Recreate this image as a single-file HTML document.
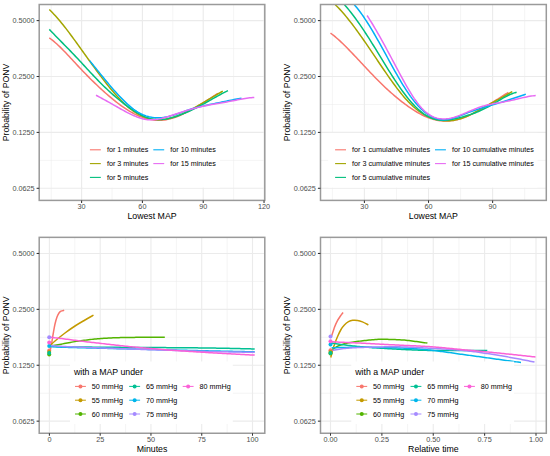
<!DOCTYPE html>
<html><head><meta charset="utf-8"><style>
html,body{margin:0;padding:0;background:#fff;width:550px;height:456px;overflow:hidden;}
svg{display:block;}
</style></head><body>
<svg width="550" height="456" viewBox="0 0 550 456" font-family='"Liberation Sans", sans-serif'>
<rect x="0" y="0" width="550" height="456" fill="#ffffff"/>
<clipPath id="c1"><rect x="39.20" y="4.50" width="225.60" height="195.90"/></clipPath>
<line x1="39.20" x2="264.80" y1="160.35" y2="160.35" stroke="#ebebeb" stroke-width="0.55"/>
<line x1="39.20" x2="264.80" y1="104.45" y2="104.45" stroke="#ebebeb" stroke-width="0.55"/>
<line x1="39.20" x2="264.80" y1="48.55" y2="48.55" stroke="#ebebeb" stroke-width="0.55"/>
<line x1="51.19" x2="51.19" y1="4.50" y2="200.40" stroke="#ebebeb" stroke-width="0.55"/>
<line x1="112.00" x2="112.00" y1="4.50" y2="200.40" stroke="#ebebeb" stroke-width="0.55"/>
<line x1="172.81" x2="172.81" y1="4.50" y2="200.40" stroke="#ebebeb" stroke-width="0.55"/>
<line x1="233.62" x2="233.62" y1="4.50" y2="200.40" stroke="#ebebeb" stroke-width="0.55"/>
<line x1="39.20" x2="264.80" y1="188.30" y2="188.30" stroke="#ebebeb" stroke-width="1.1"/>
<line x1="39.20" x2="264.80" y1="132.40" y2="132.40" stroke="#ebebeb" stroke-width="1.1"/>
<line x1="39.20" x2="264.80" y1="76.50" y2="76.50" stroke="#ebebeb" stroke-width="1.1"/>
<line x1="39.20" x2="264.80" y1="20.60" y2="20.60" stroke="#ebebeb" stroke-width="1.1"/>
<line x1="81.60" x2="81.60" y1="4.50" y2="200.40" stroke="#ebebeb" stroke-width="1.1"/>
<line x1="142.41" x2="142.41" y1="4.50" y2="200.40" stroke="#ebebeb" stroke-width="1.1"/>
<line x1="203.22" x2="203.22" y1="4.50" y2="200.40" stroke="#ebebeb" stroke-width="1.1"/>
<line x1="264.03" x2="264.03" y1="4.50" y2="200.40" stroke="#ebebeb" stroke-width="1.1"/>
<g clip-path="url(#c1)" fill="none" stroke-width="1.50" stroke-linecap="butt" stroke-linejoin="round">
<path d="M49.30,37.89 L50.82,39.00 L52.34,40.17 L53.85,41.41 L55.37,42.71 L56.89,44.06 L58.41,45.46 L59.93,46.91 L61.44,48.40 L62.96,49.92 L64.48,51.48 L66.00,53.06 L67.52,54.67 L69.03,56.29 L70.55,57.93 L72.07,59.57 L73.59,61.22 L75.11,62.86 L76.62,64.50 L78.14,66.13 L79.66,67.75 L81.18,69.35 L82.70,70.94 L84.21,72.51 L85.73,74.07 L87.25,75.62 L88.77,77.15 L90.29,78.67 L91.80,80.17 L93.32,81.66 L94.84,83.13 L96.36,84.58 L97.88,86.02 L99.39,87.44 L100.91,88.84 L102.43,90.23 L103.95,91.60 L105.47,92.96 L106.98,94.29 L108.50,95.61 L110.02,96.90 L111.54,98.18 L113.06,99.43 L114.57,100.66 L116.09,101.86 L117.61,103.03 L119.13,104.18 L120.65,105.30 L122.16,106.38 L123.68,107.44 L125.20,108.46 L126.72,109.45 L128.24,110.40 L129.75,111.31 L131.27,112.19 L132.79,113.02 L134.31,113.82 L135.83,114.57 L137.35,115.28 L138.86,115.95 L140.38,116.57 L141.90,117.15 L143.42,117.68 L144.94,118.17 L146.45,118.60 L147.97,118.99 L149.49,119.34 L151.01,119.63 L152.53,119.87 L154.04,120.06 L155.56,120.20 L157.08,120.28 L158.60,120.31 L160.12,120.29 L161.63,120.21 L163.15,120.08 L164.67,119.89 L166.19,119.66 L167.71,119.37 L169.22,119.03 L170.74,118.65 L172.26,118.22 L173.78,117.75 L175.30,117.24 L176.81,116.69 L178.33,116.10 L179.85,115.48 L181.37,114.82 L182.89,114.13 L184.40,113.42 L185.92,112.67 L187.44,111.90 L188.96,111.10 L190.48,110.29 L191.99,109.45 L193.51,108.59 L195.03,107.71 L196.55,106.82 L198.07,105.92 L199.58,105.00 L201.10,104.06 L202.62,103.12 L204.14,102.17 L205.66,101.21 L207.17,100.25 L208.69,99.28 L210.21,98.31 L211.73,97.34 L213.25,96.36 L214.76,95.39 L216.28,94.43 L217.80,93.46" stroke="#F8766D"/>
<path d="M49.30,9.54 L50.82,11.02 L52.34,12.55 L53.87,14.15 L55.39,15.80 L56.91,17.51 L58.43,19.26 L59.95,21.06 L61.48,22.90 L63.00,24.78 L64.52,26.70 L66.04,28.65 L67.56,30.64 L69.09,32.65 L70.61,34.68 L72.13,36.74 L73.65,38.82 L75.17,40.91 L76.69,43.02 L78.22,45.13 L79.74,47.25 L81.26,49.38 L82.78,51.51 L84.30,53.64 L85.83,55.77 L87.35,57.90 L88.87,60.02 L90.39,62.14 L91.91,64.25 L93.44,66.35 L94.96,68.43 L96.48,70.51 L98.00,72.56 L99.52,74.60 L101.05,76.62 L102.57,78.62 L104.09,80.60 L105.61,82.55 L107.13,84.47 L108.66,86.36 L110.18,88.22 L111.70,90.05 L113.22,91.85 L114.74,93.60 L116.26,95.32 L117.79,96.99 L119.31,98.62 L120.83,100.20 L122.35,101.73 L123.87,103.21 L125.40,104.63 L126.92,106.00 L128.44,107.31 L129.96,108.56 L131.48,109.75 L133.01,110.87 L134.53,111.92 L136.05,112.91 L137.57,113.82 L139.09,114.66 L140.62,115.43 L142.14,116.13 L143.66,116.77 L145.18,117.34 L146.70,117.84 L148.23,118.28 L149.75,118.66 L151.27,118.97 L152.79,119.22 L154.31,119.42 L155.84,119.55 L157.36,119.63 L158.88,119.65 L160.40,119.61 L161.92,119.53 L163.44,119.38 L164.97,119.19 L166.49,118.95 L168.01,118.66 L169.53,118.32 L171.05,117.93 L172.58,117.51 L174.10,117.04 L175.62,116.53 L177.14,115.99 L178.66,115.41 L180.19,114.79 L181.71,114.15 L183.23,113.47 L184.75,112.77 L186.27,112.04 L187.80,111.29 L189.32,110.51 L190.84,109.72 L192.36,108.90 L193.88,108.07 L195.41,107.23 L196.93,106.37 L198.45,105.50 L199.97,104.62 L201.49,103.73 L203.01,102.83 L204.54,101.93 L206.06,101.02 L207.58,100.11 L209.10,99.20 L210.62,98.28 L212.15,97.37 L213.67,96.46 L215.19,95.56 L216.71,94.66 L218.23,93.76 L219.76,92.88 L221.28,92.00 L222.80,91.14" stroke="#A3A500"/>
<path d="M49.30,29.36 L50.81,30.95 L52.33,32.53 L53.84,34.10 L55.36,35.66 L56.87,37.21 L58.39,38.76 L59.90,40.30 L61.42,41.85 L62.93,43.39 L64.44,44.93 L65.96,46.47 L67.47,48.02 L68.99,49.57 L70.50,51.14 L72.02,52.70 L73.53,54.28 L75.04,55.88 L76.56,57.48 L78.07,59.10 L79.59,60.72 L81.10,62.35 L82.62,63.99 L84.13,65.62 L85.65,67.26 L87.16,68.90 L88.67,70.53 L90.19,72.16 L91.70,73.78 L93.22,75.38 L94.73,76.98 L96.25,78.56 L97.76,80.13 L99.28,81.67 L100.79,83.20 L102.30,84.70 L103.82,86.18 L105.33,87.64 L106.85,89.08 L108.36,90.49 L109.88,91.88 L111.39,93.25 L112.91,94.59 L114.42,95.92 L115.93,97.22 L117.45,98.50 L118.96,99.75 L120.48,100.99 L121.99,102.20 L123.51,103.38 L125.02,104.55 L126.53,105.69 L128.05,106.81 L129.56,107.90 L131.08,108.96 L132.59,109.98 L134.11,110.97 L135.62,111.92 L137.14,112.83 L138.65,113.70 L140.16,114.51 L141.68,115.28 L143.19,115.99 L144.71,116.64 L146.22,117.23 L147.74,117.76 L149.25,118.22 L150.77,118.62 L152.28,118.94 L153.79,119.19 L155.31,119.37 L156.82,119.48 L158.34,119.54 L159.85,119.53 L161.37,119.46 L162.88,119.34 L164.39,119.16 L165.91,118.94 L167.42,118.67 L168.94,118.36 L170.45,118.00 L171.97,117.61 L173.48,117.18 L175.00,116.73 L176.51,116.24 L178.02,115.72 L179.54,115.18 L181.05,114.62 L182.57,114.03 L184.08,113.42 L185.60,112.79 L187.11,112.13 L188.63,111.46 L190.14,110.77 L191.65,110.06 L193.17,109.33 L194.68,108.58 L196.20,107.82 L197.71,107.04 L199.23,106.25 L200.74,105.45 L202.26,104.63 L203.77,103.80 L205.28,102.97 L206.80,102.12 L208.31,101.27 L209.83,100.41 L211.34,99.55 L212.86,98.70 L214.37,97.84 L215.88,96.99 L217.40,96.14 L218.91,95.30 L220.43,94.48 L221.94,93.66 L223.46,92.86 L224.97,92.07 L226.49,91.31 L228.00,90.56" stroke="#00BF7D"/>
<path d="M89.70,60.74 L91.22,62.61 L92.74,64.49 L94.25,66.37 L95.77,68.25 L97.29,70.13 L98.81,72.00 L100.33,73.87 L101.84,75.73 L103.36,77.58 L104.88,79.43 L106.40,81.25 L107.92,83.07 L109.43,84.86 L110.95,86.64 L112.47,88.40 L113.99,90.13 L115.51,91.84 L117.02,93.52 L118.54,95.17 L120.06,96.78 L121.58,98.36 L123.10,99.90 L124.61,101.39 L126.13,102.84 L127.65,104.23 L129.17,105.57 L130.69,106.86 L132.20,108.08 L133.72,109.24 L135.24,110.33 L136.76,111.35 L138.28,112.30 L139.79,113.17 L141.31,113.95 L142.83,114.66 L144.35,115.29 L145.87,115.85 L147.38,116.33 L148.90,116.73 L150.42,117.07 L151.94,117.34 L153.46,117.55 L154.97,117.69 L156.49,117.76 L158.01,117.78 L159.53,117.74 L161.05,117.65 L162.56,117.50 L164.08,117.30 L165.60,117.05 L167.12,116.76 L168.64,116.42 L170.15,116.04 L171.67,115.63 L173.19,115.19 L174.71,114.72 L176.23,114.23 L177.74,113.72 L179.26,113.20 L180.78,112.67 L182.30,112.13 L183.82,111.59 L185.33,111.06 L186.85,110.53 L188.37,110.02 L189.89,109.52 L191.41,109.04 L192.92,108.58 L194.44,108.14 L195.96,107.72 L197.48,107.32 L199.00,106.94 L200.51,106.57 L202.03,106.21 L203.55,105.87 L205.07,105.53 L206.59,105.21 L208.10,104.89 L209.62,104.57 L211.14,104.26 L212.66,103.95 L214.18,103.64 L215.69,103.34 L217.21,103.02 L218.73,102.71 L220.25,102.39 L221.77,102.08 L223.28,101.76 L224.80,101.45 L226.32,101.13 L227.84,100.82 L229.36,100.51 L230.87,100.20 L232.39,99.90 L233.91,99.61 L235.43,99.32 L236.95,99.03 L238.46,98.76 L239.98,98.49 L241.50,98.23" stroke="#00B0F6"/>
<path d="M96.00,95.25 L97.52,96.03 L99.04,96.83 L100.57,97.65 L102.09,98.47 L103.61,99.30 L105.13,100.14 L106.65,100.99 L108.18,101.85 L109.70,102.71 L111.22,103.57 L112.74,104.43 L114.27,105.30 L115.79,106.16 L117.31,107.02 L118.83,107.88 L120.35,108.73 L121.88,109.58 L123.40,110.42 L124.92,111.24 L126.44,112.06 L127.96,112.85 L129.49,113.63 L131.01,114.37 L132.53,115.09 L134.05,115.77 L135.57,116.42 L137.10,117.02 L138.62,117.57 L140.14,118.08 L141.66,118.53 L143.19,118.92 L144.71,119.25 L146.23,119.51 L147.75,119.70 L149.27,119.82 L150.80,119.87 L152.32,119.84 L153.84,119.75 L155.36,119.60 L156.88,119.39 L158.41,119.13 L159.93,118.82 L161.45,118.47 L162.97,118.08 L164.50,117.66 L166.02,117.21 L167.54,116.74 L169.06,116.25 L170.58,115.75 L172.11,115.24 L173.63,114.72 L175.15,114.21 L176.67,113.69 L178.19,113.19 L179.72,112.69 L181.24,112.20 L182.76,111.71 L184.28,111.24 L185.80,110.77 L187.33,110.31 L188.85,109.86 L190.37,109.42 L191.89,108.99 L193.42,108.57 L194.94,108.17 L196.46,107.77 L197.98,107.39 L199.50,107.03 L201.03,106.68 L202.55,106.34 L204.07,106.01 L205.59,105.70 L207.11,105.40 L208.64,105.11 L210.16,104.83 L211.68,104.56 L213.20,104.29 L214.73,104.03 L216.25,103.77 L217.77,103.51 L219.29,103.25 L220.81,102.99 L222.34,102.73 L223.86,102.46 L225.38,102.19 L226.90,101.92 L228.42,101.63 L229.95,101.34 L231.47,101.04 L232.99,100.74 L234.51,100.44 L236.03,100.14 L237.56,99.84 L239.08,99.55 L240.60,99.26 L242.12,98.99 L243.65,98.73 L245.17,98.48 L246.69,98.24 L248.21,98.03 L249.73,97.84 L251.26,97.67 L252.78,97.52 L254.30,97.40" stroke="#E76BF3"/>
</g>
<rect x="83.00" y="132.90" width="136.80" height="54.70" fill="#ffffff"/>
<line x1="89.90" x2="100.80" y1="149.80" y2="149.80" stroke="#F8766D" stroke-width="1.1"/>
<text x="106.90" y="152.35" font-size="7.20" fill="#000000" text-anchor="start">for 1 minutes</text>
<line x1="89.90" x2="100.80" y1="163.60" y2="163.60" stroke="#A3A500" stroke-width="1.1"/>
<text x="106.90" y="166.15" font-size="7.20" fill="#000000" text-anchor="start">for 3 minutes</text>
<line x1="89.90" x2="100.80" y1="177.40" y2="177.40" stroke="#00BF7D" stroke-width="1.1"/>
<text x="106.90" y="179.95" font-size="7.20" fill="#000000" text-anchor="start">for 5 minutes</text>
<line x1="153.30" x2="164.20" y1="149.80" y2="149.80" stroke="#00B0F6" stroke-width="1.1"/>
<text x="170.30" y="152.35" font-size="7.20" fill="#000000" text-anchor="start">for 10 minutes</text>
<line x1="153.30" x2="164.20" y1="163.60" y2="163.60" stroke="#E76BF3" stroke-width="1.1"/>
<text x="170.30" y="166.15" font-size="7.20" fill="#000000" text-anchor="start">for 15 minutes</text>
<rect x="39.20" y="4.50" width="225.60" height="195.90" fill="none" stroke="#9a9a9a" stroke-width="1.5"/>
<line x1="36.60" x2="39.20" y1="188.30" y2="188.30" stroke="#333333" stroke-width="1.05"/>
<text x="34.60" y="190.90" font-size="7.25" fill="#4d4d4d" text-anchor="end">0.0625</text>
<line x1="36.60" x2="39.20" y1="132.40" y2="132.40" stroke="#333333" stroke-width="1.05"/>
<text x="34.60" y="135.00" font-size="7.25" fill="#4d4d4d" text-anchor="end">0.1250</text>
<line x1="36.60" x2="39.20" y1="76.50" y2="76.50" stroke="#333333" stroke-width="1.05"/>
<text x="34.60" y="79.10" font-size="7.25" fill="#4d4d4d" text-anchor="end">0.2500</text>
<line x1="36.60" x2="39.20" y1="20.60" y2="20.60" stroke="#333333" stroke-width="1.05"/>
<text x="34.60" y="23.20" font-size="7.25" fill="#4d4d4d" text-anchor="end">0.5000</text>
<line x1="81.60" x2="81.60" y1="200.40" y2="202.90" stroke="#333333" stroke-width="1.05"/>
<text x="81.60" y="209.25" font-size="7.25" fill="#4d4d4d" text-anchor="middle">30</text>
<line x1="142.41" x2="142.41" y1="200.40" y2="202.90" stroke="#333333" stroke-width="1.05"/>
<text x="142.41" y="209.25" font-size="7.25" fill="#4d4d4d" text-anchor="middle">60</text>
<line x1="203.22" x2="203.22" y1="200.40" y2="202.90" stroke="#333333" stroke-width="1.05"/>
<text x="203.22" y="209.25" font-size="7.25" fill="#4d4d4d" text-anchor="middle">90</text>
<line x1="264.03" x2="264.03" y1="200.40" y2="202.90" stroke="#333333" stroke-width="1.05"/>
<text x="264.03" y="209.25" font-size="7.25" fill="#4d4d4d" text-anchor="middle">120</text>
<text x="152.00" y="219.40" font-size="8.75" fill="#000000" text-anchor="middle">Lowest MAP</text>
<text x="0" y="0" font-size="8.75" fill="#000000" text-anchor="middle" transform="translate(8.80,102.45) rotate(-90)">Probability of PONV</text>
<clipPath id="c2"><rect x="320.50" y="4.50" width="225.80" height="195.90"/></clipPath>
<line x1="320.50" x2="546.30" y1="160.35" y2="160.35" stroke="#ebebeb" stroke-width="0.55"/>
<line x1="320.50" x2="546.30" y1="104.45" y2="104.45" stroke="#ebebeb" stroke-width="0.55"/>
<line x1="320.50" x2="546.30" y1="48.55" y2="48.55" stroke="#ebebeb" stroke-width="0.55"/>
<line x1="332.34" x2="332.34" y1="4.50" y2="200.40" stroke="#ebebeb" stroke-width="0.55"/>
<line x1="396.45" x2="396.45" y1="4.50" y2="200.40" stroke="#ebebeb" stroke-width="0.55"/>
<line x1="460.56" x2="460.56" y1="4.50" y2="200.40" stroke="#ebebeb" stroke-width="0.55"/>
<line x1="524.67" x2="524.67" y1="4.50" y2="200.40" stroke="#ebebeb" stroke-width="0.55"/>
<line x1="320.50" x2="546.30" y1="188.30" y2="188.30" stroke="#ebebeb" stroke-width="1.1"/>
<line x1="320.50" x2="546.30" y1="132.40" y2="132.40" stroke="#ebebeb" stroke-width="1.1"/>
<line x1="320.50" x2="546.30" y1="76.50" y2="76.50" stroke="#ebebeb" stroke-width="1.1"/>
<line x1="320.50" x2="546.30" y1="20.60" y2="20.60" stroke="#ebebeb" stroke-width="1.1"/>
<line x1="364.40" x2="364.40" y1="4.50" y2="200.40" stroke="#ebebeb" stroke-width="1.1"/>
<line x1="428.51" x2="428.51" y1="4.50" y2="200.40" stroke="#ebebeb" stroke-width="1.1"/>
<line x1="492.62" x2="492.62" y1="4.50" y2="200.40" stroke="#ebebeb" stroke-width="1.1"/>
<g clip-path="url(#c2)" fill="none" stroke-width="1.50" stroke-linecap="butt" stroke-linejoin="round">
<path d="M330.50,33.09 L332.02,34.23 L333.54,35.43 L335.06,36.68 L336.58,37.97 L338.10,39.30 L339.62,40.67 L341.14,42.09 L342.66,43.53 L344.18,45.01 L345.71,46.51 L347.23,48.05 L348.75,49.60 L350.27,51.17 L351.79,52.76 L353.31,54.36 L354.83,55.97 L356.35,57.59 L357.87,59.21 L359.39,60.83 L360.91,62.46 L362.43,64.09 L363.95,65.71 L365.47,67.33 L366.99,68.95 L368.51,70.56 L370.03,72.16 L371.55,73.76 L373.07,75.34 L374.59,76.91 L376.12,78.46 L377.64,80.00 L379.16,81.52 L380.68,83.03 L382.20,84.51 L383.72,85.97 L385.24,87.42 L386.76,88.83 L388.28,90.23 L389.80,91.61 L391.32,92.96 L392.84,94.29 L394.36,95.60 L395.88,96.89 L397.40,98.15 L398.92,99.39 L400.44,100.60 L401.96,101.79 L403.48,102.96 L405.01,104.10 L406.53,105.21 L408.05,106.30 L409.57,107.37 L411.09,108.41 L412.61,109.41 L414.13,110.39 L415.65,111.33 L417.17,112.24 L418.69,113.11 L420.21,113.95 L421.73,114.74 L423.25,115.50 L424.77,116.21 L426.29,116.88 L427.81,117.50 L429.33,118.08 L430.85,118.60 L432.37,119.08 L433.89,119.51 L435.42,119.88 L436.94,120.20 L438.46,120.47 L439.98,120.69 L441.50,120.86 L443.02,120.98 L444.54,121.05 L446.06,121.06 L447.58,121.03 L449.10,120.95 L450.62,120.81 L452.14,120.63 L453.66,120.40 L455.18,120.12 L456.70,119.78 L458.22,119.40 L459.74,118.98 L461.26,118.50 L462.78,117.98 L464.31,117.43 L465.83,116.83 L467.35,116.19 L468.87,115.52 L470.39,114.82 L471.91,114.09 L473.43,113.33 L474.95,112.55 L476.47,111.74 L477.99,110.91 L479.51,110.06 L481.03,109.19 L482.55,108.31 L484.07,107.42 L485.59,106.52 L487.11,105.60 L488.63,104.68 L490.15,103.75 L491.67,102.82 L493.19,101.87 L494.72,100.93 L496.24,99.97 L497.76,99.02 L499.28,98.06 L500.80,97.11 L502.32,96.15 L503.84,95.20 L505.36,94.24 L506.88,93.29 L508.40,92.35" stroke="#F8766D"/>
<path d="M335.30,4.67 L336.83,6.18 L338.35,7.76 L339.88,9.38 L341.40,11.06 L342.93,12.79 L344.46,14.57 L345.98,16.39 L347.51,18.25 L349.03,20.16 L350.56,22.10 L352.08,24.08 L353.61,26.10 L355.14,28.14 L356.66,30.22 L358.19,32.33 L359.71,34.46 L361.24,36.61 L362.77,38.79 L364.29,40.98 L365.82,43.19 L367.34,45.42 L368.87,47.66 L370.39,49.91 L371.92,52.16 L373.45,54.42 L374.97,56.69 L376.50,58.95 L378.02,61.22 L379.55,63.48 L381.08,65.73 L382.60,67.97 L384.13,70.21 L385.65,72.43 L387.18,74.64 L388.71,76.83 L390.23,78.99 L391.76,81.13 L393.28,83.25 L394.81,85.32 L396.33,87.37 L397.86,89.37 L399.39,91.33 L400.91,93.24 L402.44,95.11 L403.96,96.91 L405.49,98.66 L407.02,100.35 L408.54,101.98 L410.07,103.54 L411.59,105.02 L413.12,106.44 L414.64,107.77 L416.17,109.04 L417.70,110.24 L419.22,111.37 L420.75,112.42 L422.27,113.41 L423.80,114.34 L425.33,115.19 L426.85,115.99 L428.38,116.71 L429.90,117.38 L431.43,117.98 L432.96,118.53 L434.48,119.01 L436.01,119.43 L437.53,119.80 L439.06,120.11 L440.58,120.36 L442.11,120.56 L443.64,120.70 L445.16,120.78 L446.69,120.81 L448.21,120.79 L449.74,120.71 L451.27,120.57 L452.79,120.39 L454.32,120.15 L455.84,119.86 L457.37,119.52 L458.89,119.13 L460.42,118.69 L461.95,118.20 L463.47,117.66 L465.00,117.07 L466.52,116.44 L468.05,115.77 L469.58,115.07 L471.10,114.34 L472.63,113.57 L474.15,112.79 L475.68,111.98 L477.21,111.16 L478.73,110.32 L480.26,109.47 L481.78,108.61 L483.31,107.75 L484.83,106.89 L486.36,106.04 L487.89,105.19 L489.41,104.35 L490.94,103.51 L492.46,102.68 L493.99,101.86 L495.52,101.03 L497.04,100.20 L498.57,99.37 L500.09,98.54 L501.62,97.70 L503.14,96.85 L504.67,96.00 L506.20,95.13 L507.72,94.25 L509.25,93.36 L510.77,92.45 L512.30,91.53" stroke="#A3A500"/>
<path d="M344.50,4.78 L346.02,6.51 L347.55,8.30 L349.07,10.14 L350.59,12.04 L352.12,13.99 L353.64,15.98 L355.16,18.03 L356.68,20.12 L358.21,22.26 L359.73,24.43 L361.25,26.64 L362.78,28.89 L364.30,31.18 L365.82,33.49 L367.35,35.84 L368.87,38.21 L370.39,40.61 L371.91,43.03 L373.44,45.48 L374.96,47.94 L376.48,50.42 L378.01,52.90 L379.53,55.40 L381.05,57.89 L382.58,60.39 L384.10,62.88 L385.62,65.36 L387.14,67.83 L388.67,70.28 L390.19,72.72 L391.71,75.12 L393.24,77.50 L394.76,79.85 L396.28,82.16 L397.81,84.42 L399.33,86.65 L400.85,88.82 L402.37,90.95 L403.90,93.02 L405.42,95.03 L406.94,96.97 L408.47,98.86 L409.99,100.68 L411.51,102.44 L413.04,104.12 L414.56,105.73 L416.08,107.27 L417.60,108.73 L419.13,110.11 L420.65,111.41 L422.17,112.63 L423.70,113.76 L425.22,114.80 L426.74,115.75 L428.27,116.61 L429.79,117.37 L431.31,118.04 L432.83,118.60 L434.36,119.08 L435.88,119.47 L437.40,119.77 L438.93,120.00 L440.45,120.15 L441.97,120.23 L443.50,120.25 L445.02,120.21 L446.54,120.11 L448.06,119.97 L449.59,119.77 L451.11,119.54 L452.63,119.27 L454.16,118.96 L455.68,118.63 L457.20,118.27 L458.73,117.90 L460.25,117.51 L461.77,117.10 L463.29,116.69 L464.82,116.25 L466.34,115.80 L467.86,115.34 L469.39,114.85 L470.91,114.34 L472.43,113.81 L473.96,113.26 L475.48,112.69 L477.00,112.09 L478.52,111.47 L480.05,110.82 L481.57,110.14 L483.09,109.43 L484.62,108.69 L486.14,107.93 L487.66,107.12 L489.19,106.29 L490.71,105.43 L492.23,104.54 L493.75,103.64 L495.28,102.73 L496.80,101.81 L498.32,100.89 L499.85,99.99 L501.37,99.09 L502.89,98.22 L504.42,97.37 L505.94,96.55 L507.46,95.77 L508.98,95.04 L510.51,94.35 L512.03,93.72 L513.55,93.16 L515.08,92.66 L516.60,92.23" stroke="#00BF7D"/>
<path d="M354.30,4.70 L355.82,6.46 L357.34,8.31 L358.85,10.26 L360.37,12.28 L361.89,14.38 L363.41,16.55 L364.92,18.80 L366.44,21.11 L367.96,23.48 L369.48,25.91 L370.99,28.39 L372.51,30.92 L374.03,33.50 L375.55,36.11 L377.07,38.76 L378.58,41.45 L380.10,44.16 L381.62,46.90 L383.14,49.65 L384.65,52.42 L386.17,55.20 L387.69,57.99 L389.21,60.77 L390.72,63.54 L392.24,66.30 L393.76,69.05 L395.28,71.76 L396.80,74.45 L398.31,77.10 L399.83,79.71 L401.35,82.27 L402.87,84.78 L404.38,87.23 L405.90,89.61 L407.42,91.93 L408.94,94.16 L410.45,96.32 L411.97,98.39 L413.49,100.36 L415.01,102.25 L416.53,104.04 L418.04,105.74 L419.56,107.34 L421.08,108.85 L422.60,110.27 L424.11,111.59 L425.63,112.81 L427.15,113.93 L428.67,114.96 L430.18,115.88 L431.70,116.71 L433.22,117.44 L434.74,118.07 L436.26,118.59 L437.77,119.02 L439.29,119.34 L440.81,119.56 L442.33,119.68 L443.84,119.70 L445.36,119.64 L446.88,119.50 L448.40,119.28 L449.92,118.99 L451.43,118.65 L452.95,118.24 L454.47,117.79 L455.99,117.30 L457.50,116.78 L459.02,116.22 L460.54,115.64 L462.06,115.05 L463.57,114.45 L465.09,113.84 L466.61,113.24 L468.13,112.65 L469.65,112.07 L471.16,111.52 L472.68,110.98 L474.20,110.45 L475.72,109.94 L477.23,109.45 L478.75,108.96 L480.27,108.49 L481.79,108.02 L483.30,107.56 L484.82,107.11 L486.34,106.66 L487.86,106.22 L489.38,105.78 L490.89,105.34 L492.41,104.90 L493.93,104.46 L495.45,104.01 L496.96,103.56 L498.48,103.11 L500.00,102.65 L501.52,102.19 L503.03,101.72 L504.55,101.24 L506.07,100.76 L507.59,100.28 L509.11,99.79 L510.62,99.29 L512.14,98.80 L513.66,98.30 L515.18,97.79 L516.69,97.28 L518.21,96.77 L519.73,96.25 L521.25,95.73 L522.76,95.21 L524.28,94.68 L525.80,94.15" stroke="#00B0F6"/>
<path d="M367.10,15.50 L368.62,17.86 L370.14,20.28 L371.66,22.75 L373.18,25.26 L374.69,27.82 L376.21,30.42 L377.73,33.05 L379.25,35.72 L380.77,38.43 L382.29,41.16 L383.81,43.92 L385.33,46.70 L386.85,49.50 L388.36,52.32 L389.88,55.15 L391.40,58.00 L392.92,60.85 L394.44,63.71 L395.96,66.57 L397.48,69.42 L399.00,72.27 L400.52,75.09 L402.04,77.89 L403.55,80.66 L405.07,83.38 L406.59,86.05 L408.11,88.66 L409.63,91.20 L411.15,93.67 L412.67,96.06 L414.19,98.36 L415.71,100.55 L417.22,102.65 L418.74,104.62 L420.26,106.48 L421.78,108.21 L423.30,109.79 L424.82,111.24 L426.34,112.54 L427.86,113.71 L429.38,114.74 L430.89,115.65 L432.41,116.44 L433.93,117.11 L435.45,117.66 L436.97,118.12 L438.49,118.46 L440.01,118.72 L441.53,118.87 L443.05,118.95 L444.56,118.93 L446.08,118.84 L447.60,118.68 L449.12,118.45 L450.64,118.16 L452.16,117.80 L453.68,117.40 L455.20,116.94 L456.72,116.44 L458.24,115.91 L459.75,115.34 L461.27,114.74 L462.79,114.12 L464.31,113.48 L465.83,112.83 L467.35,112.18 L468.87,111.52 L470.39,110.86 L471.91,110.21 L473.42,109.57 L474.94,108.95 L476.46,108.36 L477.98,107.79 L479.50,107.26 L481.02,106.76 L482.54,106.30 L484.06,105.87 L485.58,105.48 L487.09,105.10 L488.61,104.76 L490.13,104.43 L491.65,104.12 L493.17,103.82 L494.69,103.54 L496.21,103.27 L497.73,103.00 L499.25,102.73 L500.76,102.46 L502.28,102.20 L503.80,101.92 L505.32,101.63 L506.84,101.34 L508.36,101.03 L509.88,100.70 L511.40,100.36 L512.92,100.01 L514.44,99.65 L515.95,99.29 L517.47,98.93 L518.99,98.57 L520.51,98.22 L522.03,97.87 L523.55,97.53 L525.07,97.21 L526.59,96.90 L528.11,96.61 L529.62,96.34 L531.14,96.09 L532.66,95.87 L534.18,95.69 L535.70,95.53" stroke="#E76BF3"/>
</g>
<rect x="328.20" y="132.90" width="209.30" height="54.70" fill="#ffffff"/>
<line x1="335.10" x2="346.00" y1="149.80" y2="149.80" stroke="#F8766D" stroke-width="1.1"/>
<text x="352.10" y="152.35" font-size="7.20" fill="#000000" text-anchor="start">for 1 cumulative minutes</text>
<line x1="335.10" x2="346.00" y1="163.60" y2="163.60" stroke="#A3A500" stroke-width="1.1"/>
<text x="352.10" y="166.15" font-size="7.20" fill="#000000" text-anchor="start">for 3 cumulative minutes</text>
<line x1="335.10" x2="346.00" y1="177.40" y2="177.40" stroke="#00BF7D" stroke-width="1.1"/>
<text x="352.10" y="179.95" font-size="7.20" fill="#000000" text-anchor="start">for 5 cumulative minutes</text>
<line x1="435.00" x2="445.90" y1="149.80" y2="149.80" stroke="#00B0F6" stroke-width="1.1"/>
<text x="452.00" y="152.35" font-size="7.20" fill="#000000" text-anchor="start">for 10 cumulative minutes</text>
<line x1="435.00" x2="445.90" y1="163.60" y2="163.60" stroke="#E76BF3" stroke-width="1.1"/>
<text x="452.00" y="166.15" font-size="7.20" fill="#000000" text-anchor="start">for 15 cumulative minutes</text>
<rect x="320.50" y="4.50" width="225.80" height="195.90" fill="none" stroke="#9a9a9a" stroke-width="1.5"/>
<line x1="317.90" x2="320.50" y1="188.30" y2="188.30" stroke="#333333" stroke-width="1.05"/>
<text x="315.90" y="190.90" font-size="7.25" fill="#4d4d4d" text-anchor="end">0.0625</text>
<line x1="317.90" x2="320.50" y1="132.40" y2="132.40" stroke="#333333" stroke-width="1.05"/>
<text x="315.90" y="135.00" font-size="7.25" fill="#4d4d4d" text-anchor="end">0.1250</text>
<line x1="317.90" x2="320.50" y1="76.50" y2="76.50" stroke="#333333" stroke-width="1.05"/>
<text x="315.90" y="79.10" font-size="7.25" fill="#4d4d4d" text-anchor="end">0.2500</text>
<line x1="317.90" x2="320.50" y1="20.60" y2="20.60" stroke="#333333" stroke-width="1.05"/>
<text x="315.90" y="23.20" font-size="7.25" fill="#4d4d4d" text-anchor="end">0.5000</text>
<line x1="364.40" x2="364.40" y1="200.40" y2="202.90" stroke="#333333" stroke-width="1.05"/>
<text x="364.40" y="209.25" font-size="7.25" fill="#4d4d4d" text-anchor="middle">30</text>
<line x1="428.51" x2="428.51" y1="200.40" y2="202.90" stroke="#333333" stroke-width="1.05"/>
<text x="428.51" y="209.25" font-size="7.25" fill="#4d4d4d" text-anchor="middle">60</text>
<line x1="492.62" x2="492.62" y1="200.40" y2="202.90" stroke="#333333" stroke-width="1.05"/>
<text x="492.62" y="209.25" font-size="7.25" fill="#4d4d4d" text-anchor="middle">90</text>
<text x="433.40" y="219.40" font-size="8.75" fill="#000000" text-anchor="middle">Lowest MAP</text>
<text x="0" y="0" font-size="8.75" fill="#000000" text-anchor="middle" transform="translate(290.10,102.45) rotate(-90)">Probability of PONV</text>
<clipPath id="c3"><rect x="39.20" y="237.35" width="225.60" height="195.90"/></clipPath>
<line x1="39.20" x2="264.80" y1="393.20" y2="393.20" stroke="#ebebeb" stroke-width="0.55"/>
<line x1="39.20" x2="264.80" y1="337.30" y2="337.30" stroke="#ebebeb" stroke-width="0.55"/>
<line x1="39.20" x2="264.80" y1="281.40" y2="281.40" stroke="#ebebeb" stroke-width="0.55"/>
<line x1="74.79" x2="74.79" y1="237.35" y2="433.25" stroke="#ebebeb" stroke-width="0.55"/>
<line x1="125.56" x2="125.56" y1="237.35" y2="433.25" stroke="#ebebeb" stroke-width="0.55"/>
<line x1="176.34" x2="176.34" y1="237.35" y2="433.25" stroke="#ebebeb" stroke-width="0.55"/>
<line x1="227.11" x2="227.11" y1="237.35" y2="433.25" stroke="#ebebeb" stroke-width="0.55"/>
<line x1="39.20" x2="264.80" y1="421.15" y2="421.15" stroke="#ebebeb" stroke-width="1.1"/>
<line x1="39.20" x2="264.80" y1="365.25" y2="365.25" stroke="#ebebeb" stroke-width="1.1"/>
<line x1="39.20" x2="264.80" y1="309.35" y2="309.35" stroke="#ebebeb" stroke-width="1.1"/>
<line x1="39.20" x2="264.80" y1="253.45" y2="253.45" stroke="#ebebeb" stroke-width="1.1"/>
<line x1="49.40" x2="49.40" y1="237.35" y2="433.25" stroke="#ebebeb" stroke-width="1.1"/>
<line x1="100.18" x2="100.18" y1="237.35" y2="433.25" stroke="#ebebeb" stroke-width="1.1"/>
<line x1="150.95" x2="150.95" y1="237.35" y2="433.25" stroke="#ebebeb" stroke-width="1.1"/>
<line x1="201.73" x2="201.73" y1="237.35" y2="433.25" stroke="#ebebeb" stroke-width="1.1"/>
<line x1="252.50" x2="252.50" y1="237.35" y2="433.25" stroke="#ebebeb" stroke-width="1.1"/>
<g clip-path="url(#c3)" fill="none" stroke-width="1.50" stroke-linecap="butt" stroke-linejoin="round">
<path d="M50.30,350.00 C50.50,349.08 51.13,346.50 51.50,344.50 C51.87,342.50 52.17,340.08 52.50,338.00 C52.83,335.92 53.08,334.33 53.50,332.00 C53.92,329.67 54.42,326.50 55.00,324.00 C55.58,321.50 56.33,318.83 57.00,317.00 C57.67,315.17 58.33,313.97 59.00,313.00 C59.67,312.03 60.13,311.65 61.00,311.20 C61.87,310.75 63.67,310.45 64.20,310.30" stroke="#F8766D"/>
<path d="M50.50,345.20 C51.25,344.50 52.58,343.03 55.00,341.00 C57.42,338.97 61.67,335.50 65.00,333.00 C68.33,330.50 71.67,328.17 75.00,326.00 C78.33,323.83 81.92,321.80 85.00,320.00 C88.08,318.20 92.08,316.00 93.50,315.20" stroke="#C49A00"/>
<path d="M50.50,345.90 L52.02,345.67 L53.55,345.43 L55.07,345.19 L56.60,344.95 L58.12,344.71 L59.64,344.46 L61.17,344.18 L62.69,343.87 L64.22,343.55 L65.74,343.26 L67.26,342.97 L68.79,342.68 L70.31,342.40 L71.84,342.13 L73.36,341.87 L74.88,341.62 L76.41,341.38 L77.93,341.16 L79.46,340.94 L80.98,340.73 L82.50,340.52 L84.03,340.32 L85.55,340.13 L87.08,339.94 L88.60,339.74 L90.12,339.56 L91.65,339.37 L93.17,339.21 L94.70,339.05 L96.22,338.91 L97.74,338.79 L99.27,338.67 L100.79,338.56 L102.32,338.45 L103.84,338.34 L105.36,338.24 L106.89,338.15 L108.41,338.07 L109.94,337.99 L111.46,337.92 L112.98,337.85 L114.51,337.80 L116.03,337.75 L117.56,337.71 L119.08,337.66 L120.60,337.62 L122.13,337.58 L123.65,337.55 L125.18,337.51 L126.70,337.48 L128.22,337.46 L129.75,337.43 L131.27,337.41 L132.80,337.40 L134.32,337.39 L135.84,337.37 L137.37,337.36 L138.89,337.35 L140.42,337.34 L141.94,337.33 L143.46,337.32 L144.99,337.31 L146.51,337.31 L148.04,337.30 L149.56,337.30 L151.08,337.30 L152.61,337.30 L154.13,337.30 L155.66,337.30 L157.18,337.30 L158.70,337.30 L160.23,337.30 L161.75,337.30 L163.28,337.30 L164.80,337.30" stroke="#53B400"/>
<path d="M50.50,346.30 L52.01,346.37 L53.53,346.45 L55.04,346.52 L56.55,346.59 L58.06,346.65 L59.58,346.69 L61.09,346.72 L62.60,346.75 L64.11,346.78 L65.63,346.81 L67.14,346.84 L68.65,346.86 L70.16,346.89 L71.68,346.91 L73.19,346.93 L74.70,346.95 L76.21,346.97 L77.73,346.99 L79.24,347.00 L80.75,347.02 L82.26,347.04 L83.78,347.05 L85.29,347.07 L86.80,347.08 L88.31,347.09 L89.83,347.11 L91.34,347.12 L92.85,347.14 L94.37,347.15 L95.88,347.16 L97.39,347.18 L98.90,347.19 L100.42,347.20 L101.93,347.22 L103.44,347.23 L104.95,347.25 L106.47,347.26 L107.98,347.27 L109.49,347.28 L111.00,347.30 L112.52,347.31 L114.03,347.32 L115.54,347.33 L117.05,347.34 L118.57,347.36 L120.08,347.37 L121.59,347.38 L123.10,347.39 L124.62,347.40 L126.13,347.41 L127.64,347.42 L129.15,347.43 L130.67,347.44 L132.18,347.45 L133.69,347.46 L135.21,347.47 L136.72,347.48 L138.23,347.49 L139.74,347.50 L141.26,347.51 L142.77,347.52 L144.28,347.52 L145.79,347.53 L147.31,347.54 L148.82,347.55 L150.33,347.55 L151.84,347.56 L153.36,347.57 L154.87,347.57 L156.38,347.58 L157.89,347.59 L159.41,347.59 L160.92,347.60 L162.43,347.61 L163.94,347.61 L165.46,347.62 L166.97,347.63 L168.48,347.63 L169.99,347.64 L171.51,347.65 L173.02,347.66 L174.53,347.67 L176.05,347.67 L177.56,347.68 L179.07,347.69 L180.58,347.70 L182.10,347.72 L183.61,347.73 L185.12,347.74 L186.63,347.75 L188.15,347.77 L189.66,347.78 L191.17,347.80 L192.68,347.81 L194.20,347.83 L195.71,347.84 L197.22,347.86 L198.73,347.88 L200.25,347.90 L201.76,347.92 L203.27,347.94 L204.78,347.96 L206.30,347.98 L207.81,348.00 L209.32,348.02 L210.83,348.04 L212.35,348.06 L213.86,348.08 L215.37,348.11 L216.89,348.13 L218.40,348.15 L219.91,348.18 L221.42,348.21 L222.94,348.23 L224.45,348.26 L225.96,348.29 L227.47,348.32 L228.99,348.35 L230.50,348.39 L232.01,348.42 L233.52,348.45 L235.04,348.49 L236.55,348.52 L238.06,348.56 L239.57,348.60 L241.09,348.63 L242.60,348.67 L244.11,348.71 L245.62,348.75 L247.14,348.79 L248.65,348.83 L250.16,348.87 L251.67,348.91 L253.19,348.96 L254.70,349.00" stroke="#00C094"/>
<path d="M50.50,346.60 L52.01,346.69 L53.53,346.78 L55.04,346.86 L56.55,346.94 L58.06,347.02 L59.58,347.08 L61.09,347.14 L62.60,347.20 L64.11,347.25 L65.63,347.30 L67.14,347.35 L68.65,347.40 L70.16,347.44 L71.68,347.49 L73.19,347.53 L74.70,347.57 L76.21,347.61 L77.73,347.65 L79.24,347.69 L80.75,347.73 L82.26,347.77 L83.78,347.80 L85.29,347.84 L86.80,347.88 L88.31,347.91 L89.83,347.95 L91.34,347.98 L92.85,348.02 L94.37,348.06 L95.88,348.09 L97.39,348.13 L98.90,348.17 L100.42,348.21 L101.93,348.25 L103.44,348.29 L104.95,348.33 L106.47,348.37 L107.98,348.41 L109.49,348.45 L111.00,348.49 L112.52,348.52 L114.03,348.56 L115.54,348.60 L117.05,348.64 L118.57,348.68 L120.08,348.72 L121.59,348.75 L123.10,348.79 L124.62,348.83 L126.13,348.87 L127.64,348.91 L129.15,348.94 L130.67,348.98 L132.18,349.02 L133.69,349.06 L135.21,349.09 L136.72,349.13 L138.23,349.17 L139.74,349.21 L141.26,349.24 L142.77,349.28 L144.28,349.32 L145.79,349.35 L147.31,349.39 L148.82,349.43 L150.33,349.46 L151.84,349.50 L153.36,349.54 L154.87,349.58 L156.38,349.61 L157.89,349.65 L159.41,349.69 L160.92,349.72 L162.43,349.76 L163.94,349.80 L165.46,349.83 L166.97,349.87 L168.48,349.91 L169.99,349.94 L171.51,349.98 L173.02,350.02 L174.53,350.05 L176.05,350.09 L177.56,350.13 L179.07,350.16 L180.58,350.20 L182.10,350.24 L183.61,350.27 L185.12,350.31 L186.63,350.35 L188.15,350.38 L189.66,350.42 L191.17,350.46 L192.68,350.49 L194.20,350.53 L195.71,350.56 L197.22,350.60 L198.73,350.63 L200.25,350.67 L201.76,350.70 L203.27,350.74 L204.78,350.77 L206.30,350.81 L207.81,350.84 L209.32,350.88 L210.83,350.91 L212.35,350.94 L213.86,350.98 L215.37,351.01 L216.89,351.04 L218.40,351.07 L219.91,351.11 L221.42,351.14 L222.94,351.17 L224.45,351.20 L225.96,351.23 L227.47,351.26 L228.99,351.30 L230.50,351.33 L232.01,351.36 L233.52,351.39 L235.04,351.42 L236.55,351.45 L238.06,351.48 L239.57,351.51 L241.09,351.54 L242.60,351.57 L244.11,351.60 L245.62,351.63 L247.14,351.66 L248.65,351.69 L250.16,351.71 L251.67,351.74 L253.19,351.77 L254.70,351.80" stroke="#00B6EB"/>
<path d="M50.50,345.60 L52.01,345.72 L53.53,345.84 L55.04,345.96 L56.55,346.08 L58.06,346.18 L59.58,346.28 L61.09,346.36 L62.60,346.44 L64.11,346.52 L65.63,346.59 L67.14,346.66 L68.65,346.73 L70.16,346.80 L71.68,346.86 L73.19,346.92 L74.70,346.99 L76.21,347.05 L77.73,347.10 L79.24,347.16 L80.75,347.22 L82.26,347.27 L83.78,347.32 L85.29,347.38 L86.80,347.43 L88.31,347.48 L89.83,347.54 L91.34,347.59 L92.85,347.64 L94.37,347.70 L95.88,347.75 L97.39,347.80 L98.90,347.86 L100.42,347.92 L101.93,347.97 L103.44,348.03 L104.95,348.09 L106.47,348.14 L107.98,348.20 L109.49,348.25 L111.00,348.31 L112.52,348.36 L114.03,348.42 L115.54,348.48 L117.05,348.53 L118.57,348.58 L120.08,348.64 L121.59,348.69 L123.10,348.75 L124.62,348.80 L126.13,348.86 L127.64,348.91 L129.15,348.96 L130.67,349.02 L132.18,349.07 L133.69,349.12 L135.21,349.18 L136.72,349.23 L138.23,349.28 L139.74,349.33 L141.26,349.38 L142.77,349.43 L144.28,349.49 L145.79,349.54 L147.31,349.59 L148.82,349.64 L150.33,349.69 L151.84,349.74 L153.36,349.79 L154.87,349.84 L156.38,349.88 L157.89,349.93 L159.41,349.98 L160.92,350.03 L162.43,350.08 L163.94,350.13 L165.46,350.17 L166.97,350.22 L168.48,350.27 L169.99,350.32 L171.51,350.37 L173.02,350.42 L174.53,350.46 L176.05,350.51 L177.56,350.56 L179.07,350.61 L180.58,350.66 L182.10,350.70 L183.61,350.75 L185.12,350.80 L186.63,350.84 L188.15,350.89 L189.66,350.93 L191.17,350.98 L192.68,351.02 L194.20,351.07 L195.71,351.11 L197.22,351.15 L198.73,351.20 L200.25,351.24 L201.76,351.28 L203.27,351.32 L204.78,351.36 L206.30,351.40 L207.81,351.43 L209.32,351.47 L210.83,351.51 L212.35,351.54 L213.86,351.58 L215.37,351.61 L216.89,351.64 L218.40,351.67 L219.91,351.70 L221.42,351.74 L222.94,351.77 L224.45,351.80 L225.96,351.83 L227.47,351.86 L228.99,351.89 L230.50,351.91 L232.01,351.94 L233.52,351.97 L235.04,352.00 L236.55,352.02 L238.06,352.05 L239.57,352.08 L241.09,352.10 L242.60,352.13 L244.11,352.15 L245.62,352.17 L247.14,352.20 L248.65,352.22 L250.16,352.24 L251.67,352.26 L253.19,352.28 L254.70,352.30" stroke="#A58AFF"/>
<path d="M49.50,337.20 L51.02,337.36 L52.54,337.53 L54.06,337.69 L55.58,337.87 L57.10,338.04 L58.62,338.22 L60.14,338.40 L61.66,338.59 L63.18,338.77 L64.70,338.96 L66.22,339.15 L67.74,339.35 L69.26,339.55 L70.78,339.75 L72.30,339.95 L73.82,340.15 L75.34,340.34 L76.86,340.54 L78.38,340.75 L79.90,340.95 L81.42,341.15 L82.94,341.34 L84.46,341.53 L85.98,341.72 L87.50,341.90 L89.02,342.07 L90.54,342.24 L92.06,342.41 L93.58,342.58 L95.10,342.75 L96.62,342.92 L98.14,343.09 L99.66,343.26 L101.18,343.44 L102.70,343.62 L104.22,343.80 L105.74,343.98 L107.26,344.16 L108.78,344.34 L110.30,344.52 L111.82,344.70 L113.34,344.87 L114.86,345.04 L116.38,345.21 L117.90,345.37 L119.42,345.54 L120.94,345.70 L122.46,345.86 L123.98,346.02 L125.50,346.18 L127.02,346.34 L128.54,346.49 L130.06,346.64 L131.58,346.79 L133.10,346.94 L134.62,347.08 L136.14,347.23 L137.66,347.37 L139.18,347.51 L140.70,347.65 L142.22,347.79 L143.74,347.93 L145.26,348.07 L146.78,348.20 L148.30,348.33 L149.82,348.47 L151.34,348.60 L152.86,348.72 L154.38,348.85 L155.90,348.97 L157.42,349.10 L158.94,349.22 L160.46,349.34 L161.98,349.45 L163.50,349.57 L165.02,349.68 L166.54,349.80 L168.06,349.91 L169.58,350.02 L171.10,350.13 L172.62,350.24 L174.14,350.35 L175.66,350.46 L177.18,350.57 L178.70,350.68 L180.22,350.78 L181.74,350.89 L183.26,350.99 L184.78,351.09 L186.30,351.20 L187.82,351.30 L189.34,351.40 L190.86,351.50 L192.38,351.60 L193.90,351.70 L195.42,351.80 L196.94,351.89 L198.46,351.99 L199.98,352.09 L201.50,352.18 L203.02,352.28 L204.54,352.37 L206.06,352.46 L207.58,352.56 L209.10,352.65 L210.62,352.74 L212.14,352.83 L213.66,352.92 L215.18,353.01 L216.70,353.10 L218.22,353.19 L219.74,353.28 L221.26,353.36 L222.78,353.45 L224.30,353.53 L225.82,353.62 L227.34,353.70 L228.86,353.79 L230.38,353.87 L231.90,353.95 L233.42,354.03 L234.94,354.11 L236.46,354.19 L237.98,354.27 L239.50,354.35 L241.02,354.43 L242.54,354.51 L244.06,354.58 L245.58,354.66 L247.10,354.73 L248.62,354.81 L250.14,354.88 L251.66,354.96 L253.18,355.03 L254.70,355.10" stroke="#FB61D7"/>
<circle cx="49.20" cy="350.40" r="2.0" fill="#F8766D" stroke="none"/>
<circle cx="49.20" cy="352.00" r="2.0" fill="#C49A00" stroke="none"/>
<circle cx="49.20" cy="354.40" r="2.0" fill="#53B400" stroke="none"/>
<circle cx="49.20" cy="352.90" r="2.0" fill="#00C094" stroke="none"/>
<circle cx="49.20" cy="346.00" r="2.0" fill="#00B6EB" stroke="none"/>
<circle cx="49.20" cy="337.20" r="2.0" fill="#A58AFF" stroke="none"/>
<circle cx="49.20" cy="342.60" r="2.0" fill="#FB61D7" stroke="none"/>
</g>
<rect x="70.00" y="361.50" width="162.80" height="62.50" fill="#ffffff"/>
<text x="73.90" y="374.60" font-size="8.75" fill="#000000" text-anchor="start">with a MAP under</text>
<line x1="75.00" x2="85.90" y1="386.40" y2="386.40" stroke="#F8766D" stroke-width="1.0"/>
<circle cx="80.45" cy="386.40" r="2.0" fill="#F8766D"/>
<text x="91.80" y="388.95" font-size="7.20" fill="#000000" text-anchor="start">50 mmHg</text>
<line x1="75.00" x2="85.90" y1="400.20" y2="400.20" stroke="#C49A00" stroke-width="1.0"/>
<circle cx="80.45" cy="400.20" r="2.0" fill="#C49A00"/>
<text x="91.80" y="402.75" font-size="7.20" fill="#000000" text-anchor="start">55 mmHg</text>
<line x1="75.00" x2="85.90" y1="414.00" y2="414.00" stroke="#53B400" stroke-width="1.0"/>
<circle cx="80.45" cy="414.00" r="2.0" fill="#53B400"/>
<text x="91.80" y="416.55" font-size="7.20" fill="#000000" text-anchor="start">60 mmHg</text>
<line x1="129.20" x2="140.10" y1="386.40" y2="386.40" stroke="#00C094" stroke-width="1.0"/>
<circle cx="134.65" cy="386.40" r="2.0" fill="#00C094"/>
<text x="146.00" y="388.95" font-size="7.20" fill="#000000" text-anchor="start">65 mmHg</text>
<line x1="129.20" x2="140.10" y1="400.20" y2="400.20" stroke="#00B6EB" stroke-width="1.0"/>
<circle cx="134.65" cy="400.20" r="2.0" fill="#00B6EB"/>
<text x="146.00" y="402.75" font-size="7.20" fill="#000000" text-anchor="start">70 mmHg</text>
<line x1="129.20" x2="140.10" y1="414.00" y2="414.00" stroke="#A58AFF" stroke-width="1.0"/>
<circle cx="134.65" cy="414.00" r="2.0" fill="#A58AFF"/>
<text x="146.00" y="416.55" font-size="7.20" fill="#000000" text-anchor="start">75 mmHg</text>
<line x1="182.70" x2="193.60" y1="386.40" y2="386.40" stroke="#FB61D7" stroke-width="1.0"/>
<circle cx="188.15" cy="386.40" r="2.0" fill="#FB61D7"/>
<text x="199.50" y="388.95" font-size="7.20" fill="#000000" text-anchor="start">80 mmHg</text>
<rect x="39.20" y="237.35" width="225.60" height="195.90" fill="none" stroke="#9a9a9a" stroke-width="1.5"/>
<line x1="36.60" x2="39.20" y1="421.15" y2="421.15" stroke="#333333" stroke-width="1.05"/>
<text x="34.60" y="423.75" font-size="7.25" fill="#4d4d4d" text-anchor="end">0.0625</text>
<line x1="36.60" x2="39.20" y1="365.25" y2="365.25" stroke="#333333" stroke-width="1.05"/>
<text x="34.60" y="367.85" font-size="7.25" fill="#4d4d4d" text-anchor="end">0.1250</text>
<line x1="36.60" x2="39.20" y1="309.35" y2="309.35" stroke="#333333" stroke-width="1.05"/>
<text x="34.60" y="311.95" font-size="7.25" fill="#4d4d4d" text-anchor="end">0.2500</text>
<line x1="36.60" x2="39.20" y1="253.45" y2="253.45" stroke="#333333" stroke-width="1.05"/>
<text x="34.60" y="256.05" font-size="7.25" fill="#4d4d4d" text-anchor="end">0.5000</text>
<line x1="49.40" x2="49.40" y1="433.25" y2="435.75" stroke="#333333" stroke-width="1.05"/>
<text x="49.40" y="442.10" font-size="7.25" fill="#4d4d4d" text-anchor="middle">0</text>
<line x1="100.18" x2="100.18" y1="433.25" y2="435.75" stroke="#333333" stroke-width="1.05"/>
<text x="100.18" y="442.10" font-size="7.25" fill="#4d4d4d" text-anchor="middle">25</text>
<line x1="150.95" x2="150.95" y1="433.25" y2="435.75" stroke="#333333" stroke-width="1.05"/>
<text x="150.95" y="442.10" font-size="7.25" fill="#4d4d4d" text-anchor="middle">50</text>
<line x1="201.73" x2="201.73" y1="433.25" y2="435.75" stroke="#333333" stroke-width="1.05"/>
<text x="201.73" y="442.10" font-size="7.25" fill="#4d4d4d" text-anchor="middle">75</text>
<line x1="252.50" x2="252.50" y1="433.25" y2="435.75" stroke="#333333" stroke-width="1.05"/>
<text x="252.50" y="442.10" font-size="7.25" fill="#4d4d4d" text-anchor="middle">100</text>
<text x="152.00" y="452.25" font-size="8.75" fill="#000000" text-anchor="middle">Minutes</text>
<text x="0" y="0" font-size="8.75" fill="#000000" text-anchor="middle" transform="translate(8.80,335.30) rotate(-90)">Probability of PONV</text>
<clipPath id="c4"><rect x="320.50" y="237.35" width="225.80" height="195.90"/></clipPath>
<line x1="320.50" x2="546.30" y1="393.20" y2="393.20" stroke="#ebebeb" stroke-width="0.55"/>
<line x1="320.50" x2="546.30" y1="337.30" y2="337.30" stroke="#ebebeb" stroke-width="0.55"/>
<line x1="320.50" x2="546.30" y1="281.40" y2="281.40" stroke="#ebebeb" stroke-width="0.55"/>
<line x1="356.19" x2="356.19" y1="237.35" y2="433.25" stroke="#ebebeb" stroke-width="0.55"/>
<line x1="407.56" x2="407.56" y1="237.35" y2="433.25" stroke="#ebebeb" stroke-width="0.55"/>
<line x1="458.94" x2="458.94" y1="237.35" y2="433.25" stroke="#ebebeb" stroke-width="0.55"/>
<line x1="510.31" x2="510.31" y1="237.35" y2="433.25" stroke="#ebebeb" stroke-width="0.55"/>
<line x1="320.50" x2="546.30" y1="421.15" y2="421.15" stroke="#ebebeb" stroke-width="1.1"/>
<line x1="320.50" x2="546.30" y1="365.25" y2="365.25" stroke="#ebebeb" stroke-width="1.1"/>
<line x1="320.50" x2="546.30" y1="309.35" y2="309.35" stroke="#ebebeb" stroke-width="1.1"/>
<line x1="320.50" x2="546.30" y1="253.45" y2="253.45" stroke="#ebebeb" stroke-width="1.1"/>
<line x1="330.50" x2="330.50" y1="237.35" y2="433.25" stroke="#ebebeb" stroke-width="1.1"/>
<line x1="381.88" x2="381.88" y1="237.35" y2="433.25" stroke="#ebebeb" stroke-width="1.1"/>
<line x1="433.25" x2="433.25" y1="237.35" y2="433.25" stroke="#ebebeb" stroke-width="1.1"/>
<line x1="484.62" x2="484.62" y1="237.35" y2="433.25" stroke="#ebebeb" stroke-width="1.1"/>
<line x1="536.00" x2="536.00" y1="237.35" y2="433.25" stroke="#ebebeb" stroke-width="1.1"/>
<g clip-path="url(#c4)" fill="none" stroke-width="1.50" stroke-linecap="butt" stroke-linejoin="round">
<path d="M331.60,336.00 C332.12,334.45 333.78,329.15 334.70,326.70 C335.62,324.25 336.20,323.00 337.10,321.30 C338.00,319.60 339.10,317.97 340.10,316.50 C341.10,315.03 342.60,313.17 343.10,312.50" stroke="#F8766D"/>
<path d="M330.80,357.50 C331.13,356.18 332.10,352.02 332.80,349.60 C333.50,347.18 334.17,345.27 335.00,343.00 C335.83,340.73 336.80,338.25 337.80,336.00 C338.80,333.75 339.90,331.33 341.00,329.50 C342.10,327.67 343.15,326.30 344.40,325.00 C345.65,323.70 347.12,322.48 348.50,321.70 C349.88,320.92 351.18,320.52 352.70,320.30 C354.22,320.08 355.98,320.13 357.60,320.40 C359.22,320.67 360.60,321.15 362.40,321.90 C364.20,322.65 367.40,324.40 368.40,324.90" stroke="#C49A00"/>
<path d="M332.20,349.60 L333.74,348.55 L335.27,347.57 L336.81,346.67 L338.34,345.89 L339.88,345.24 L341.41,344.72 L342.95,344.24 L344.48,343.82 L346.02,343.44 L347.55,343.09 L349.09,342.78 L350.63,342.48 L352.16,342.21 L353.70,341.95 L355.23,341.72 L356.77,341.50 L358.30,341.30 L359.84,341.12 L361.37,340.95 L362.91,340.77 L364.45,340.59 L365.98,340.42 L367.52,340.24 L369.05,340.08 L370.59,339.92 L372.12,339.78 L373.66,339.65 L375.19,339.53 L376.73,339.44 L378.26,339.37 L379.80,339.32 L381.34,339.30 L382.87,339.30 L384.41,339.32 L385.94,339.34 L387.48,339.36 L389.01,339.40 L390.55,339.44 L392.08,339.49 L393.62,339.55 L395.15,339.61 L396.69,339.68 L398.23,339.75 L399.76,339.82 L401.30,339.90 L402.83,339.98 L404.37,340.08 L405.90,340.21 L407.44,340.38 L408.97,340.58 L410.51,340.78 L412.05,341.00 L413.58,341.21 L415.12,341.41 L416.65,341.61 L418.19,341.81 L419.72,342.02 L421.26,342.23 L422.79,342.44 L424.33,342.66 L425.86,342.88 L427.40,343.10" stroke="#53B400"/>
<path d="M331.60,343.00 L333.13,343.26 L334.65,343.51 L336.18,343.75 L337.71,343.98 L339.23,344.21 L340.76,344.43 L342.29,344.65 L343.81,344.85 L345.34,345.04 L346.86,345.23 L348.39,345.41 L349.92,345.59 L351.44,345.76 L352.97,345.92 L354.50,346.08 L356.02,346.23 L357.55,346.38 L359.08,346.52 L360.60,346.65 L362.13,346.78 L363.66,346.91 L365.18,347.04 L366.71,347.16 L368.24,347.28 L369.76,347.40 L371.29,347.52 L372.81,347.63 L374.34,347.74 L375.87,347.85 L377.39,347.96 L378.92,348.07 L380.45,348.17 L381.97,348.27 L383.50,348.37 L385.03,348.46 L386.55,348.56 L388.08,348.65 L389.61,348.74 L391.13,348.82 L392.66,348.90 L394.19,348.98 L395.71,349.06 L397.24,349.14 L398.76,349.22 L400.29,349.31 L401.82,349.39 L403.34,349.47 L404.87,349.55 L406.40,349.63 L407.92,349.71 L409.45,349.78 L410.98,349.86 L412.50,349.93 L414.03,349.99 L415.56,350.06 L417.08,350.12 L418.61,350.17 L420.14,350.22 L421.66,350.27 L423.19,350.31 L424.71,350.34 L426.24,350.37 L427.77,350.39 L429.29,350.40 L430.82,350.41 L432.35,350.42 L433.87,350.43 L435.40,350.44 L436.93,350.45 L438.45,350.46 L439.98,350.46 L441.51,350.47 L443.03,350.48 L444.56,350.48 L446.09,350.49 L447.61,350.49 L449.14,350.49 L450.66,350.50 L452.19,350.50 L453.72,350.50 L455.24,350.50 L456.77,350.50 L458.30,350.50 L459.82,350.50 L461.35,350.50 L462.88,350.50 L464.40,350.50 L465.93,350.50 L467.46,350.50 L468.98,350.50 L470.51,350.50 L472.04,350.50 L473.56,350.50 L475.09,350.50 L476.61,350.50 L478.14,350.50 L479.67,350.50 L481.19,350.50 L482.72,350.50 L484.25,350.50 L485.77,350.50 L487.30,350.50" stroke="#00C094"/>
<path d="M331.60,347.80 L333.12,347.75 L334.63,347.71 L336.15,347.66 L337.66,347.62 L339.18,347.58 L340.69,347.54 L342.21,347.51 L343.72,347.48 L345.24,347.45 L346.75,347.42 L348.27,347.39 L349.78,347.37 L351.30,347.35 L352.81,347.34 L354.33,347.32 L355.84,347.31 L357.36,347.31 L358.87,347.30 L360.39,347.30 L361.90,347.30 L363.42,347.31 L364.93,347.31 L366.45,347.32 L367.96,347.33 L369.48,347.35 L371.00,347.36 L372.51,347.38 L374.03,347.40 L375.54,347.42 L377.06,347.45 L378.57,347.47 L380.09,347.50 L381.60,347.53 L383.12,347.55 L384.63,347.58 L386.15,347.61 L387.66,347.65 L389.18,347.68 L390.69,347.71 L392.21,347.75 L393.72,347.78 L395.24,347.82 L396.75,347.86 L398.27,347.91 L399.78,347.96 L401.30,348.02 L402.81,348.08 L404.33,348.15 L405.84,348.23 L407.36,348.30 L408.88,348.39 L410.39,348.47 L411.91,348.56 L413.42,348.66 L414.94,348.76 L416.45,348.86 L417.97,348.96 L419.48,349.06 L421.00,349.17 L422.51,349.30 L424.03,349.43 L425.54,349.58 L427.06,349.74 L428.57,349.91 L430.09,350.08 L431.60,350.26 L433.12,350.44 L434.63,350.63 L436.15,350.82 L437.66,351.01 L439.18,351.20 L440.69,351.39 L442.21,351.58 L443.72,351.78 L445.24,351.99 L446.76,352.20 L448.27,352.42 L449.79,352.63 L451.30,352.85 L452.82,353.07 L454.33,353.29 L455.85,353.51 L457.36,353.73 L458.88,353.94 L460.39,354.15 L461.91,354.36 L463.42,354.57 L464.94,354.77 L466.45,354.97 L467.97,355.18 L469.48,355.38 L471.00,355.58 L472.51,355.79 L474.03,355.99 L475.54,356.19 L477.06,356.40 L478.57,356.60 L480.09,356.81 L481.60,357.02 L483.12,357.23 L484.64,357.44 L486.15,357.65 L487.67,357.87 L489.18,358.08 L490.70,358.29 L492.21,358.51 L493.73,358.72 L495.24,358.93 L496.76,359.15 L498.27,359.36 L499.79,359.57 L501.30,359.78 L502.82,359.99 L504.33,360.20 L505.85,360.41 L507.36,360.62 L508.88,360.83 L510.39,361.04 L511.91,361.25 L513.42,361.46 L514.94,361.67 L516.45,361.88 L517.97,362.08 L519.48,362.29 L521.00,362.50" stroke="#00B6EB"/>
<path d="M331.60,350.60 L333.11,350.30 L334.63,350.02 L336.14,349.74 L337.66,349.48 L339.17,349.24 L340.69,349.01 L342.20,348.81 L343.71,348.63 L345.23,348.48 L346.74,348.34 L348.26,348.21 L349.77,348.09 L351.28,347.97 L352.80,347.87 L354.31,347.77 L355.83,347.68 L357.34,347.61 L358.86,347.54 L360.37,347.49 L361.88,347.44 L363.40,347.39 L364.91,347.34 L366.43,347.29 L367.94,347.25 L369.45,347.20 L370.97,347.16 L372.48,347.12 L374.00,347.08 L375.51,347.05 L377.03,347.01 L378.54,346.98 L380.05,346.95 L381.57,346.92 L383.08,346.89 L384.60,346.87 L386.11,346.85 L387.62,346.84 L389.14,346.82 L390.65,346.81 L392.17,346.80 L393.68,346.80 L395.20,346.80 L396.71,346.81 L398.22,346.83 L399.74,346.85 L401.25,346.89 L402.77,346.93 L404.28,346.98 L405.79,347.03 L407.31,347.09 L408.82,347.16 L410.34,347.22 L411.85,347.30 L413.37,347.37 L414.88,347.45 L416.39,347.53 L417.91,347.61 L419.42,347.70 L420.94,347.78 L422.45,347.86 L423.96,347.94 L425.48,348.02 L426.99,348.10 L428.51,348.18 L430.02,348.25 L431.54,348.32 L433.05,348.40 L434.56,348.48 L436.08,348.56 L437.59,348.64 L439.11,348.72 L440.62,348.81 L442.14,348.89 L443.65,348.99 L445.16,349.08 L446.68,349.18 L448.19,349.28 L449.71,349.38 L451.22,349.49 L452.73,349.60 L454.25,349.72 L455.76,349.84 L457.28,349.96 L458.79,350.09 L460.31,350.23 L461.82,350.37 L463.33,350.51 L464.85,350.66 L466.36,350.81 L467.88,350.97 L469.39,351.13 L470.90,351.30 L472.42,351.48 L473.93,351.66 L475.45,351.86 L476.96,352.06 L478.48,352.27 L479.99,352.48 L481.50,352.70 L483.02,352.93 L484.53,353.16 L486.05,353.39 L487.56,353.62 L489.07,353.86 L490.59,354.09 L492.10,354.33 L493.62,354.57 L495.13,354.81 L496.65,355.06 L498.16,355.31 L499.67,355.56 L501.19,355.81 L502.70,356.07 L504.22,356.32 L505.73,356.59 L507.24,356.85 L508.76,357.12 L510.27,357.39 L511.79,357.66 L513.30,357.93 L514.82,358.21 L516.33,358.49 L517.84,358.78 L519.36,359.06 L520.87,359.35 L522.39,359.65 L523.90,359.94 L525.41,360.24 L526.93,360.54 L528.44,360.85 L529.96,361.16 L531.47,361.47 L532.99,361.78 L534.50,362.10" stroke="#A58AFF"/>
<path d="M331.60,341.80 L333.12,341.87 L334.64,341.93 L336.16,342.00 L337.69,342.06 L339.21,342.13 L340.73,342.20 L342.25,342.27 L343.77,342.34 L345.29,342.41 L346.82,342.48 L348.34,342.55 L349.86,342.62 L351.38,342.69 L352.90,342.76 L354.42,342.83 L355.95,342.90 L357.47,342.98 L358.99,343.05 L360.51,343.12 L362.03,343.20 L363.55,343.28 L365.08,343.35 L366.60,343.43 L368.12,343.51 L369.64,343.59 L371.16,343.67 L372.68,343.75 L374.21,343.83 L375.73,343.91 L377.25,343.99 L378.77,344.07 L380.29,344.15 L381.81,344.24 L383.34,344.32 L384.86,344.40 L386.38,344.48 L387.90,344.56 L389.42,344.64 L390.94,344.72 L392.47,344.80 L393.99,344.87 L395.51,344.95 L397.03,345.03 L398.55,345.10 L400.07,345.17 L401.60,345.24 L403.12,345.31 L404.64,345.38 L406.16,345.44 L407.68,345.51 L409.20,345.58 L410.73,345.65 L412.25,345.71 L413.77,345.78 L415.29,345.86 L416.81,345.93 L418.33,346.00 L419.86,346.08 L421.38,346.16 L422.90,346.24 L424.42,346.32 L425.94,346.41 L427.46,346.50 L428.99,346.60 L430.51,346.70 L432.03,346.81 L433.55,346.92 L435.07,347.04 L436.59,347.17 L438.11,347.30 L439.64,347.44 L441.16,347.58 L442.68,347.72 L444.20,347.86 L445.72,348.01 L447.24,348.16 L448.77,348.31 L450.29,348.46 L451.81,348.61 L453.33,348.76 L454.85,348.91 L456.37,349.06 L457.90,349.20 L459.42,349.35 L460.94,349.49 L462.46,349.63 L463.98,349.76 L465.50,349.90 L467.03,350.04 L468.55,350.18 L470.07,350.32 L471.59,350.46 L473.11,350.60 L474.63,350.74 L476.16,350.88 L477.68,351.02 L479.20,351.16 L480.72,351.31 L482.24,351.45 L483.76,351.60 L485.29,351.74 L486.81,351.89 L488.33,352.04 L489.85,352.19 L491.37,352.34 L492.89,352.49 L494.42,352.64 L495.94,352.79 L497.46,352.94 L498.98,353.10 L500.50,353.25 L502.02,353.41 L503.55,353.56 L505.07,353.72 L506.59,353.88 L508.11,354.03 L509.63,354.19 L511.15,354.35 L512.68,354.51 L514.20,354.67 L515.72,354.83 L517.24,355.00 L518.76,355.16 L520.28,355.32 L521.81,355.49 L523.33,355.65 L524.85,355.82 L526.37,355.98 L527.89,356.15 L529.41,356.32 L530.94,356.49 L532.46,356.66 L533.98,356.83 L535.50,357.00" stroke="#FB61D7"/>
<circle cx="330.50" cy="350.30" r="2.0" fill="#F8766D" stroke="none"/>
<circle cx="330.50" cy="352.00" r="2.0" fill="#C49A00" stroke="none"/>
<circle cx="330.50" cy="353.50" r="2.0" fill="#53B400" stroke="none"/>
<circle cx="330.50" cy="353.00" r="2.0" fill="#00C094" stroke="none"/>
<circle cx="330.50" cy="344.60" r="2.0" fill="#00B6EB" stroke="none"/>
<circle cx="330.50" cy="336.60" r="2.0" fill="#A58AFF" stroke="none"/>
<circle cx="330.50" cy="341.20" r="2.0" fill="#FB61D7" stroke="none"/>
</g>
<rect x="351.30" y="361.50" width="162.80" height="62.50" fill="#ffffff"/>
<text x="355.20" y="374.60" font-size="8.75" fill="#000000" text-anchor="start">with a MAP under</text>
<line x1="356.30" x2="367.20" y1="386.40" y2="386.40" stroke="#F8766D" stroke-width="1.0"/>
<circle cx="361.75" cy="386.40" r="2.0" fill="#F8766D"/>
<text x="373.10" y="388.95" font-size="7.20" fill="#000000" text-anchor="start">50 mmHg</text>
<line x1="356.30" x2="367.20" y1="400.20" y2="400.20" stroke="#C49A00" stroke-width="1.0"/>
<circle cx="361.75" cy="400.20" r="2.0" fill="#C49A00"/>
<text x="373.10" y="402.75" font-size="7.20" fill="#000000" text-anchor="start">55 mmHg</text>
<line x1="356.30" x2="367.20" y1="414.00" y2="414.00" stroke="#53B400" stroke-width="1.0"/>
<circle cx="361.75" cy="414.00" r="2.0" fill="#53B400"/>
<text x="373.10" y="416.55" font-size="7.20" fill="#000000" text-anchor="start">60 mmHg</text>
<line x1="410.50" x2="421.40" y1="386.40" y2="386.40" stroke="#00C094" stroke-width="1.0"/>
<circle cx="415.95" cy="386.40" r="2.0" fill="#00C094"/>
<text x="427.30" y="388.95" font-size="7.20" fill="#000000" text-anchor="start">65 mmHg</text>
<line x1="410.50" x2="421.40" y1="400.20" y2="400.20" stroke="#00B6EB" stroke-width="1.0"/>
<circle cx="415.95" cy="400.20" r="2.0" fill="#00B6EB"/>
<text x="427.30" y="402.75" font-size="7.20" fill="#000000" text-anchor="start">70 mmHg</text>
<line x1="410.50" x2="421.40" y1="414.00" y2="414.00" stroke="#A58AFF" stroke-width="1.0"/>
<circle cx="415.95" cy="414.00" r="2.0" fill="#A58AFF"/>
<text x="427.30" y="416.55" font-size="7.20" fill="#000000" text-anchor="start">75 mmHg</text>
<line x1="464.00" x2="474.90" y1="386.40" y2="386.40" stroke="#FB61D7" stroke-width="1.0"/>
<circle cx="469.45" cy="386.40" r="2.0" fill="#FB61D7"/>
<text x="480.80" y="388.95" font-size="7.20" fill="#000000" text-anchor="start">80 mmHg</text>
<rect x="320.50" y="237.35" width="225.80" height="195.90" fill="none" stroke="#9a9a9a" stroke-width="1.5"/>
<line x1="317.90" x2="320.50" y1="421.15" y2="421.15" stroke="#333333" stroke-width="1.05"/>
<text x="315.90" y="423.75" font-size="7.25" fill="#4d4d4d" text-anchor="end">0.0625</text>
<line x1="317.90" x2="320.50" y1="365.25" y2="365.25" stroke="#333333" stroke-width="1.05"/>
<text x="315.90" y="367.85" font-size="7.25" fill="#4d4d4d" text-anchor="end">0.1250</text>
<line x1="317.90" x2="320.50" y1="309.35" y2="309.35" stroke="#333333" stroke-width="1.05"/>
<text x="315.90" y="311.95" font-size="7.25" fill="#4d4d4d" text-anchor="end">0.2500</text>
<line x1="317.90" x2="320.50" y1="253.45" y2="253.45" stroke="#333333" stroke-width="1.05"/>
<text x="315.90" y="256.05" font-size="7.25" fill="#4d4d4d" text-anchor="end">0.5000</text>
<line x1="330.50" x2="330.50" y1="433.25" y2="435.75" stroke="#333333" stroke-width="1.05"/>
<text x="330.50" y="442.10" font-size="7.25" fill="#4d4d4d" text-anchor="middle">0.00</text>
<line x1="381.88" x2="381.88" y1="433.25" y2="435.75" stroke="#333333" stroke-width="1.05"/>
<text x="381.88" y="442.10" font-size="7.25" fill="#4d4d4d" text-anchor="middle">0.25</text>
<line x1="433.25" x2="433.25" y1="433.25" y2="435.75" stroke="#333333" stroke-width="1.05"/>
<text x="433.25" y="442.10" font-size="7.25" fill="#4d4d4d" text-anchor="middle">0.50</text>
<line x1="484.62" x2="484.62" y1="433.25" y2="435.75" stroke="#333333" stroke-width="1.05"/>
<text x="484.62" y="442.10" font-size="7.25" fill="#4d4d4d" text-anchor="middle">0.75</text>
<line x1="536.00" x2="536.00" y1="433.25" y2="435.75" stroke="#333333" stroke-width="1.05"/>
<text x="536.00" y="442.10" font-size="7.25" fill="#4d4d4d" text-anchor="middle">1.00</text>
<text x="433.40" y="452.25" font-size="8.75" fill="#000000" text-anchor="middle">Relative time</text>
<text x="0" y="0" font-size="8.75" fill="#000000" text-anchor="middle" transform="translate(290.10,335.30) rotate(-90)">Probability of PONV</text>
</svg>
</body></html>
